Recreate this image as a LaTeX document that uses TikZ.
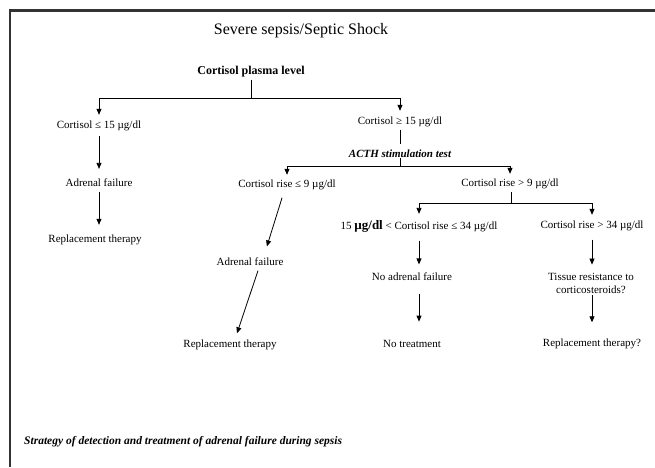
\documentclass[tikz,border=0pt]{standalone}
\usepackage{fontspec}
\setmainfont{Liberation Serif}
\usetikzlibrary{arrows.meta}
\begin{document}
\begin{tikzpicture}[x=1pt,y=-1pt,
  txt/.style={font=\fontsize{11}{13}\selectfont, inner sep=0pt},
  line/.style={draw=black, line width=0.8pt},
  arr/.style={line, -{Triangle[length=6pt,width=5pt]}}]
\useasboundingbox (0,0) rectangle (655,467);
% frame
\draw[line width=2.5pt, black!80] (655,10.5) -- (10,10.5) -- (10,467);
% nodes
\node[inner sep=0pt, font=\fontsize{16}{18}\selectfont] (title) at (301,31) {Severe sepsis/Septic Shock};
\node[inner sep=0pt, font=\fontsize{12}{14}\selectfont\bfseries] (cpl) at (251,72) {Cortisol plasma level};
\node[txt] (c15l) at (99,126) {Cortisol ≤ 15 µg/dl};
\node[txt] (c15r) at (400,122) {Cortisol ≥ 15 µg/dl};
\node[inner sep=0pt, font=\fontsize{11}{13}\selectfont\bfseries\itshape] (acth) at (400,154) {ACTH stimulation test};
\node[txt] (af1) at (99,183) {Adrenal failure};
\node[txt] (rt1) at (95,240) {Replacement therapy};
\node[txt] (r9l) at (287,185) {Cortisol rise ≤ 9 µg/dl};
\node[txt] (r9g) at (510,184) {Cortisol rise > 9 µg/dl};
\node[txt] (af2) at (250,262) {Adrenal failure};
\node[txt] (rt2) at (230,345) {Replacement therapy};
\node[txt] (r34m) at (419,226) {15 {\fontsize{13}{13}\selectfont\bfseries µg/dl} < Cortisol rise ≤ 34 µg/dl};
\node[txt] (r34g) at (592,226) {Cortisol rise > 34 µg/dl};
\node[txt] (naf) at (412,277) {No adrenal failure};
\node[txt, align=center] (tis) at (591,283) {Tissue resistance to\\corticosteroids?};
\node[txt] (nt) at (412,344) {No treatment};
\node[txt] (rt3) at (592,344) {Replacement therapy?};
\node[anchor=west, inner sep=0pt, font=\fontsize{11.5}{13}\selectfont\bfseries\itshape] (cap) at (24,442) {Strategy of detection and treatment of adrenal failure during sepsis};
% junctions
\coordinate (j1) at (251,98);
\coordinate (j2) at (400,166);
\coordinate (j3) at (511,203);
% connectors
\draw[line, shorten <=2pt] (cpl.south) -- (j1);
\draw[arr, shorten >=6pt] (j1) -| (c15l.north);
\draw[arr, shorten >=6pt] (j1) -| (c15r.north);
\draw[arr, shorten <=5pt, shorten >=10pt] (c15l.south) -- (af1.north);
\draw[arr, shorten <=4.5pt, shorten >=10pt] (af1.south) -- (af1.south |- rt1.north);
\draw[line, shorten <=2.5pt, shorten >=6pt] (c15r.south) -- (acth.north);
\draw[line] (acth.south) -- (j2);
\draw[arr, shorten >=5pt] (j2) -| (r9l.north);
\draw[arr, shorten >=5pt] (j2) -| (r9g.north);
\draw[arr, shorten <=7.9pt, shorten >=12pt] ([xshift=-2.6pt]r9l.south) -- ([xshift=13.3pt]af2.north);
\draw[arr, shorten <=4.8pt, shorten >=6.9pt] ([xshift=9.5pt]af2.south) -- ([xshift=4.8pt]rt2.north);
\draw[line, shorten <=3pt] (r9g.south -| j3) -- (j3);
\draw[arr, shorten >=6pt] (j3) -| (r34m.north);
\draw[arr, shorten >=6pt] (j3) -| (r34g.north);
\draw[arr, shorten <=8.5pt, shorten >=8.5pt] (r34m.south) -- (r34m.south |- naf.north);
\draw[arr, shorten <=12.5pt, shorten >=18.5pt] (naf.south -| r34m.south) -- (r34m.south |- nt.north);
\draw[arr, shorten <=8.5pt, shorten >=8pt] (r34g.south) -- (r34g.south |- tis.north);
\draw[arr, shorten <=2pt, shorten >=16.5pt] (tis.south -| r34g.south) -- (r34g.south |- rt3.north);
\end{tikzpicture}
\end{document}
